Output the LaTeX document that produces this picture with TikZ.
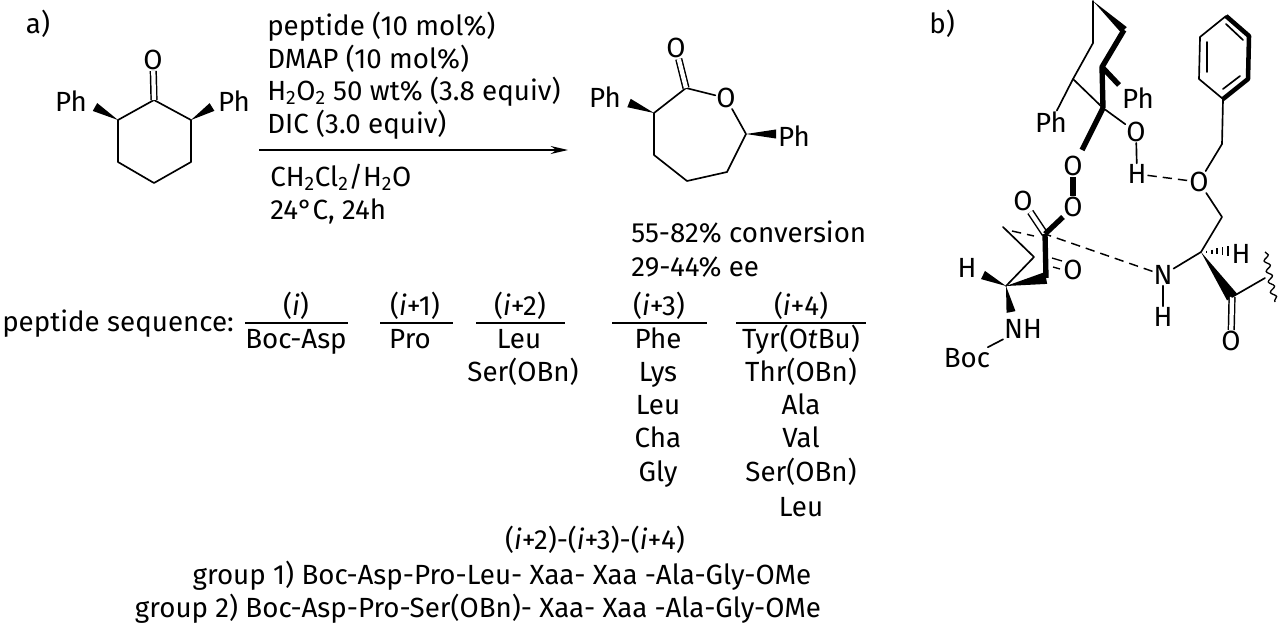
\documentclass[tikz,border=0pt]{standalone}
\usepackage{fontspec}
\setmainfont{Fira Sans}
\usetikzlibrary{calc,arrows.meta,decorations.pathmorphing}

\tikzset{
    lbl/.style={anchor=base,inner sep=0pt,font=\fontsize{20.8}{22}\selectfont},
    lblw/.style={lbl,anchor=base west},
    atom/.style={font=\fontsize{20.8}{22}\selectfont,inner sep=0.6pt},
    bond/.style={line width=1.25pt,line cap=round,line join=round},
    boldbond/.style={line width=4pt,line cap=butt,line join=round},
    dbl/.style={line width=1.1pt,double,double distance=3.2pt},
    hbond/.style={line width=1.1pt,dash pattern=on 7pt off 4.5pt},
    rulebar/.style={line width=1.3pt}
}

\newcommand{\wedgebond}[3][3.4pt]{
    \fill (#2) -- ($(#3)!#1!90:(#2)$) -- ($(#3)!#1!-90:(#2)$) -- cycle;
}

\begin{document}
\begin{tikzpicture}[x=0.75pt,y=-0.75pt]
    \useasboundingbox (0,0) rectangle (1280,629);

    % a) ketone
    \node[lbl] (la) at (38,33) {a)};
    \coordinate (ka) at (154,100);
    \coordinate (kb) at (191,120);
    \coordinate (kc) at (191,162);
    \coordinate (kd) at (154,183);
    \coordinate (ke) at (118,162);
    \coordinate (kf) at (118,120);
    \coordinate (kwl) at (95,107);
    \coordinate (kwr) at (212,107);
    \node[atom] (ko) at (153,60) {O};
    \node[atom] (kpl) at (71,101) {Ph};
    \node[atom] (kpr) at (234,101) {Ph};
    \draw[bond] (ka) -- (kb) -- (kc) -- (kd) -- (ke) -- (kf) -- cycle;
    \draw[dbl] (ka) -- (ko);
    \wedgebond{kf}{kwl}
    \wedgebond{kb}{kwr}

    % reagents
    \node[lblw] (ra) at (267,35) {peptide (10 mol\%)};
    \node[lblw] (rb) at (267,68) {DMAP (10 mol\%)};
    \node[lblw] (rc) at (267,100) {H\textsubscript{2}O\textsubscript{2} 50 wt\% (3.8 equiv)};
    \node[lblw] (rd) at (267,133) {DIC (3.0 equiv)};
    \node[lblw] (re) at (270,186) {CH\textsubscript{2}Cl\textsubscript{2}/H\textsubscript{2}O};
    \node[lblw] (rf) at (270,219) {24°C, 24h};
    \coordinate (arra) at (259,150);
    \coordinate (arrb) at (568,150);
    \draw[line width=1.1pt,-{Stealth[length=13pt,width=6pt]}] (arra) -- (arrb);

    % lactone
    \coordinate (pa) at (686,88);
    \coordinate (pb) at (654,113);
    \coordinate (pc) at (654,155);
    \coordinate (pd) at (687,181);
    \coordinate (pe) at (727,172);
    \coordinate (pf) at (746,134);
    \coordinate (pwl) at (629,103);
    \coordinate (pwr) at (776,134);
    \node[atom] (po) at (726,98) {O};
    \node[atom] (pco) at (676,48) {O};
    \node[atom] (ppl) at (605,97) {Ph};
    \node[atom] (ppr) at (794,136) {Ph};
    \draw[bond] (po) -- (pa) -- (pb) -- (pc) -- (pd) -- (pe) -- (pf) -- (po);
    \draw[dbl] (pa) -- (pco);
    \wedgebond{pb}{pwl}
    \wedgebond{pf}{pwr}
    \node[lblw] (ca) at (631,242) {55-82\% conversion};
    \node[lblw] (cb) at (631,276) {29-44\% ee};

    % peptide table
    \node[lblw] (ps) at (2,331) {peptide sequence:};
    \node[lbl] (ha) at (296,315) {(\textit{i})};
    \node[lbl] (hb) at (415,315) {(\textit{i}+1)};
    \node[lbl] (hc) at (520,315) {(\textit{i}+2)};
    \node[lbl] (hd) at (659,315) {(\textit{i}+3)};
    \node[lbl] (hf) at (801,315) {(\textit{i}+4)};
    \foreach \nm/\xa/\xb in {ta/245/348,tb/380/453,tc/476/565,td/612/707,tf/736/866}{
        \coordinate (\nm l) at (\xa,323);
        \coordinate (\nm r) at (\xb,323);
        \draw[rulebar] (\nm l) -- (\nm r);
    }
    \node[lbl] (aa) at (296,348) {Boc-Asp};
    \node[lbl] (ba) at (410,348) {Pro};
    \node[lbl] (ca1) at (519,348) {Leu};
    \node[lbl] (ca2) at (523,381) {Ser(OBn)};
    \foreach \nm/\txt/\y in {da/Phe/348,db/Lys/381,dc/Leu/414,dd/Cha/447,df/Gly/481}{
        \node[lbl] (\nm) at (658,\y) {\txt};
    }
    \node[lbl] (fa) at (801,348) {Tyr(O\textit{t}Bu)};
    \node[lbl] (fb) at (801,381) {Thr(OBn)};
    \node[lbl] (fc) at (801,414) {Ala};
    \node[lbl] (fd) at (801,447) {Val};
    \node[lbl] (ff) at (801,481) {Ser(OBn)};
    \node[lbl] (fg) at (801,516) {Leu};
    \node[lbl] (ga) at (595,549) {(\textit{i}+2)-(\textit{i}+3)-(\textit{i}+4)};
    \node[lbl] (gb) at (502,584) {group 1) Boc-Asp-Pro-Leu- Xaa- Xaa -Ala-Gly-OMe};
    \node[lbl] (gc) at (478,617) {group 2) Boc-Asp-Pro-Ser(OBn)- Xaa- Xaa -Ala-Gly-OMe};

    % b) transition state
    \node[lbl] (lb) at (942,33) {b)};
    \coordinate (sa) at (1093,1);
    \coordinate (sb) at (1124,30);
    \coordinate (sc) at (1102,67);
    \coordinate (sd) at (1103,108);
    \coordinate (se) at (1073,79);
    \coordinate (sf) at (1093,43);
    \coordinate (sg) at (1119,85);
    \coordinate (sh) at (1082,150);
    \node[atom] (sp1) at (1051,122) {Ph};
    \node[atom] (sp2) at (1138,98) {Ph};
    \node[atom] (so1) at (1136,132) {O};
    \node[atom] (sh1) at (1137,174) {H};
    \node[atom] (so2) at (1073,166) {O};
    \node[atom] (so3) at (1073,207) {O};
    \draw[bond] (sa) -- (sf) -- (se) -- (sd) -- (so1) -- (sh1);
    \draw[bond] (se) -- (sp1);
    \wedgebond[3pt]{sa}{sb}
    \draw[boldbond] (sb) -- (sc) -- (sd);
    \draw[boldbond] (sc) -- (sg);
    \draw[boldbond] (sd) -- (sh);
    \draw[boldbond] (so2) -- (so3);

    % benzyl ether arm
    \coordinate (ba1) at (1223,99);
    \coordinate (ba2) at (1199,79);
    \coordinate (ba3) at (1200,37);
    \coordinate (ba4) at (1226,16);
    \coordinate (ba5) at (1249,36);
    \coordinate (ba6) at (1248,79);
    \coordinate (bch) at (1222,144);
    \coordinate (cha) at (1222,217);
    \coordinate (cal) at (1201,252);
    \node[atom] (bo) at (1199,182) {O};
    \node[atom] (nn) at (1163,275) {N};
    \node[atom] (nh) at (1163,317) {H};
    \node[atom] (ah) at (1241,254) {H};
    \draw[bond] (ba6) -- (ba1) -- (ba2) -- (ba3) -- (ba4) -- (ba5);
    \draw[boldbond,line width=3.4pt] (ba1) -- (ba6) -- (ba5) -- (ba4);
    \coordinate (ia) at (1207,42);
    \coordinate (ib) at (1207,72);
    \coordinate (ic) at (1226,24);
    \coordinate (id) at (1243,40);
    \coordinate (ie) at (1223,89);
    \coordinate (if) at (1240,76);
    \draw[bond] (ia) -- (ib) (ic) -- (id) (ie) -- (if);
    \draw[bond] (ba1) -- (bch) -- (bo) -- (cha) -- (cal) -- (nn) -- (nh);
    \draw[hbond] (sh1) -- (bo);
    \foreach \t/\h in {0.2/1.2,0.4/2,0.6/3,0.8/4,1/5}{
        \draw[line width=1.3pt] ($(cal)!\t!(1228,251)+(0,-\h)$) -- ($(cal)!\t!(1228,251)+(0,\h)$);
    }
    \coordinate (cco) at (1232,297);
    \coordinate (wva) at (1265,278);
    \coordinate (wvb) at (1265,252);
    \coordinate (wvc) at (1275,302);
    \node[atom] (coo) at (1231,341) {O};
    \wedgebond[4.5pt]{cal}{cco}
    \draw[dbl] (cco) -- (coo);
    \draw[bond] (cco) -- (wva);
    \draw[line width=1pt,decorate,decoration={snake,amplitude=2pt,segment length=8pt}] (wvb) -- (wvc);

    % Asp side
    \coordinate (dca) at (1045,234);
    \coordinate (dcb) at (1046,278);
    \coordinate (dcc) at (1006,286);
    \coordinate (dcd) at (1034,257);
    \coordinate (dce) at (1003,227);
    \coordinate (dwh) at (983,275);
    \coordinate (dwn) at (1011,312);
    \coordinate (dob) at (1063,217);
    \node[atom] (do1) at (1023,201) {O};
    \node[atom] (do2) at (1073,270) {O};
    \node[atom] (dh) at (967,268) {H};
    \node[atom] (dnh) at (1023,329) {NH};
    \node[atom] (dbo) at (967,358) {Boc};
    \draw[dbl] (dca) -- (do1);
    \draw[boldbond] (dca) -- (dob);
    \draw[boldbond] (dca) -- (dcb);
    \wedgebond[4.5pt]{dcc}{dcb}
    \draw[bond] (dcc) -- (dcd) -- (dce);
    \wedgebond{dcc}{dwh}
    \wedgebond{dcc}{dwn}
    \draw[bond] (dnh) -- (dbo);
    \draw[hbond] (nn) -- (dca);
    \coordinate (dda) at (1012,231);
    \coordinate (ddb) at (1034,236);
    \draw[hbond] (dda) -- (ddb);
    \coordinate (dea) at (1052,258);
    \coordinate (deb) at (1062,261);
    \coordinate (dec) at (1053,267);
    \coordinate (ded) at (1060,269);
    \draw[line width=1pt] (dea) -- (deb) (dec) -- (ded);
\end{tikzpicture}
\end{document}
